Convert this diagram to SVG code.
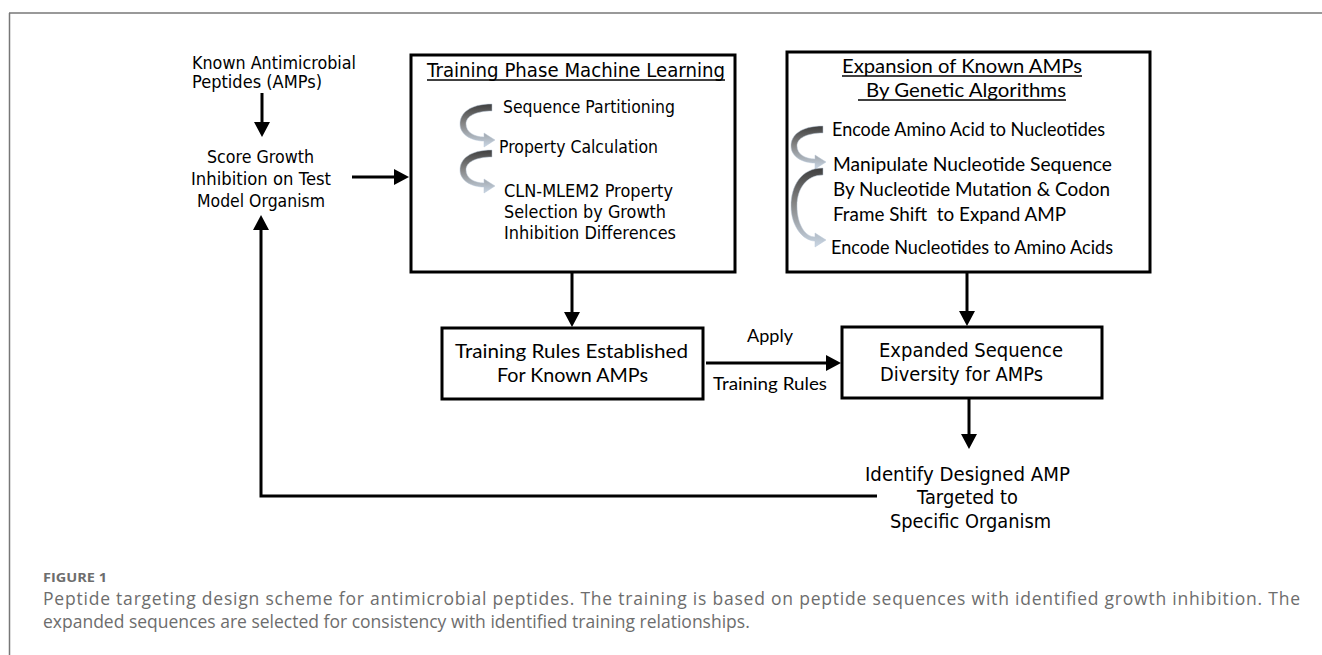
<svg xmlns="http://www.w3.org/2000/svg" width="1322" height="655" viewBox="0 0 1322 655">
<style>
.t{font-family:"DejaVu Sans",sans-serif;fill:#000}
.c{font-family:Lato,"Open Sans",sans-serif;fill:#000}
.box{fill:#fff;stroke:#000;stroke-width:3}
.ln{fill:none;stroke:#000;stroke-width:3}
.ul{stroke:#000;stroke-width:1.3}
.cap{font-family:"Open Sans",Lato,sans-serif;fill:#6d6d6d}
</style>
<defs>
<marker id="ah" markerUnits="userSpaceOnUse" markerWidth="16" markerHeight="16" refX="3" refY="8" orient="auto">
<path d="M0,0 L15,8 L0,16 Z" fill="#000"/>
</marker>
<linearGradient id="cg" x1="0" y1="0" x2="0" y2="1">
<stop offset="0" stop-color="#3f3f3f"/>
<stop offset="0.45" stop-color="#858585"/>
<stop offset="1" stop-color="#c9d6e4"/>
</linearGradient>
<path id="cs" d="M0,0 C-22,0 -32,9 -32,20 C-32,31 -20,37 -8,37 L-8,43 L3,36 L-8,29 L-8,33 C-18,33 -26,28 -26,20 C-26,12 -16,7 0,7 Z" fill="url(#cg)" stroke="#b8c6d6" stroke-width="0.5"/>
<path id="ct" d="M0,0 C-22,0 -32,18 -32,38 C-32,58 -20,73 -8,73 L-8,79 L3,72 L-8,65 L-8,69 C-18,69 -26,56 -26,38 C-26,20 -16,7 0,7 Z" fill="url(#cg)" stroke="#b8c6d6" stroke-width="0.5"/>
</defs>

<g id="frame">
<path d="M9,13 H1322" stroke="#777" stroke-width="1.5" fill="none"/>
<path d="M9.5,13 V655" stroke="#777" stroke-width="1.5" fill="none"/>
</g>

<g id="known">
<text class="t" x="192" y="69" font-size="17" textLength="164" lengthAdjust="spacingAndGlyphs">Known Antimicrobial</text>
<text class="t" x="192" y="88" font-size="17" textLength="130" lengthAdjust="spacingAndGlyphs">Peptides (AMPs)</text>
</g>

<g id="score">
<text class="t" x="207" y="163" font-size="18" textLength="107" lengthAdjust="spacingAndGlyphs">Score Growth</text>
<text class="t" x="191" y="185" font-size="18" textLength="140" lengthAdjust="spacingAndGlyphs">Inhibition on Test</text>
<text class="t" x="197" y="207" font-size="18" textLength="128" lengthAdjust="spacingAndGlyphs">Model Organism</text>
</g>

<g id="training-phase">
<rect class="box" x="411" y="55" width="324" height="217"/>
<text class="t" x="427" y="77" font-size="19.5" textLength="298" lengthAdjust="spacingAndGlyphs">Training Phase Machine Learning</text>
<line class="ul" x1="427" y1="80" x2="725" y2="80"/>
<use href="#cs" x="492" y="104"/>
<use href="#cs" x="492" y="150"/>
<text class="t" x="503" y="113" font-size="18" textLength="172" lengthAdjust="spacingAndGlyphs">Sequence Partitioning</text>
<text class="t" x="499" y="153" font-size="18" textLength="159" lengthAdjust="spacingAndGlyphs">Property Calculation</text>
<text class="t" x="504" y="197" font-size="18" textLength="169" lengthAdjust="spacingAndGlyphs">CLN-MLEM2 Property</text>
<text class="t" x="504" y="218" font-size="18" textLength="162" lengthAdjust="spacingAndGlyphs">Selection by Growth</text>
<text class="t" x="504" y="239" font-size="18" textLength="172" lengthAdjust="spacingAndGlyphs">Inhibition Differences</text>
</g>

<g id="expansion">
<rect class="box" x="787" y="52" width="363" height="220"/>
<text class="c" x="842" y="73" font-size="20" textLength="240" lengthAdjust="spacingAndGlyphs">Expansion of Known AMPs</text>
<line class="ul" x1="842" y1="76" x2="1082" y2="76"/>
<text class="c" x="866" y="97" font-size="20" textLength="200" lengthAdjust="spacingAndGlyphs">By Genetic Algorithms</text>
<line class="ul" x1="858" y1="100" x2="1066" y2="100"/>
<use href="#cs" x="823" y="126"/>
<use href="#ct" x="823" y="168"/>
<text class="c" x="832" y="136" font-size="18.5" textLength="273" lengthAdjust="spacingAndGlyphs">Encode Amino Acid to Nucleotides</text>
<text class="c" x="833" y="171" font-size="18.5" textLength="279" lengthAdjust="spacingAndGlyphs">Manipulate Nucleotide Sequence</text>
<text class="c" x="833" y="196" font-size="18.5" textLength="277" lengthAdjust="spacingAndGlyphs">By Nucleotide Mutation &amp; Codon</text>
<text class="c" x="833" y="221" font-size="18.5" textLength="233" lengthAdjust="spacingAndGlyphs" xml:space="preserve">Frame Shift  to Expand AMP</text>
<text class="c" x="831" y="254" font-size="18.5" textLength="282" lengthAdjust="spacingAndGlyphs">Encode Nucleotides to Amino Acids</text>
</g>

<g id="training-rules">
<rect class="box" x="442" y="328" width="261" height="71"/>
<text class="c" x="455" y="358" font-size="20" textLength="233" lengthAdjust="spacingAndGlyphs">Training Rules Established</text>
<text class="c" x="497" y="382" font-size="20" textLength="151" lengthAdjust="spacingAndGlyphs">For Known AMPs</text>
</g>

<g id="expanded">
<rect class="box" x="842" y="327" width="260" height="71"/>
<text class="t" x="879" y="357" font-size="19.5" textLength="184" lengthAdjust="spacingAndGlyphs">Expanded Sequence</text>
<text class="t" x="880" y="381" font-size="19.5" textLength="163" lengthAdjust="spacingAndGlyphs">Diversity for AMPs</text>
</g>

<g id="identify">
<text class="t" x="865" y="481" font-size="19.5" textLength="205" lengthAdjust="spacingAndGlyphs">Identify Designed AMP</text>
<text class="t" x="917" y="504" font-size="19.5" textLength="101" lengthAdjust="spacingAndGlyphs">Targeted to</text>
<text class="t" x="890" y="528" font-size="19.5" textLength="161" lengthAdjust="spacingAndGlyphs">Specific Organism</text>
</g>

<g id="connectors">
<path class="ln" d="M262,93 V125" marker-end="url(#ah)"/>
<path class="ln" d="M352,177 H397" marker-end="url(#ah)"/>
<path class="ln" d="M572,273 V315" marker-end="url(#ah)"/>
<path class="ln" d="M967,273 V314" marker-end="url(#ah)"/>
<path class="ln" d="M706,363 H829" marker-end="url(#ah)"/>
<path class="ln" d="M969,399 V437" marker-end="url(#ah)"/>
<path class="ln" d="M877,496 H261 V227" marker-end="url(#ah)"/>
<text class="c" x="747" y="342" font-size="18" textLength="46" lengthAdjust="spacingAndGlyphs">Apply</text>
<text class="c" x="713" y="390" font-size="18" textLength="114" lengthAdjust="spacingAndGlyphs">Training Rules</text>
</g>

<g id="caption">
<text class="cap" x="43" y="582" font-size="13" font-weight="bold" textLength="64" lengthAdjust="spacingAndGlyphs">FIGURE 1</text>
<text class="cap" x="43" y="605" font-size="17.5" textLength="1257" lengthAdjust="spacing">Peptide targeting design scheme for antimicrobial peptides. The training is based on peptide sequences with identified growth inhibition. The</text>
<text class="cap" x="43" y="628" font-size="17.5">expanded sequences are selected for consistency with identified training relationships.</text>
</g>
</svg>
